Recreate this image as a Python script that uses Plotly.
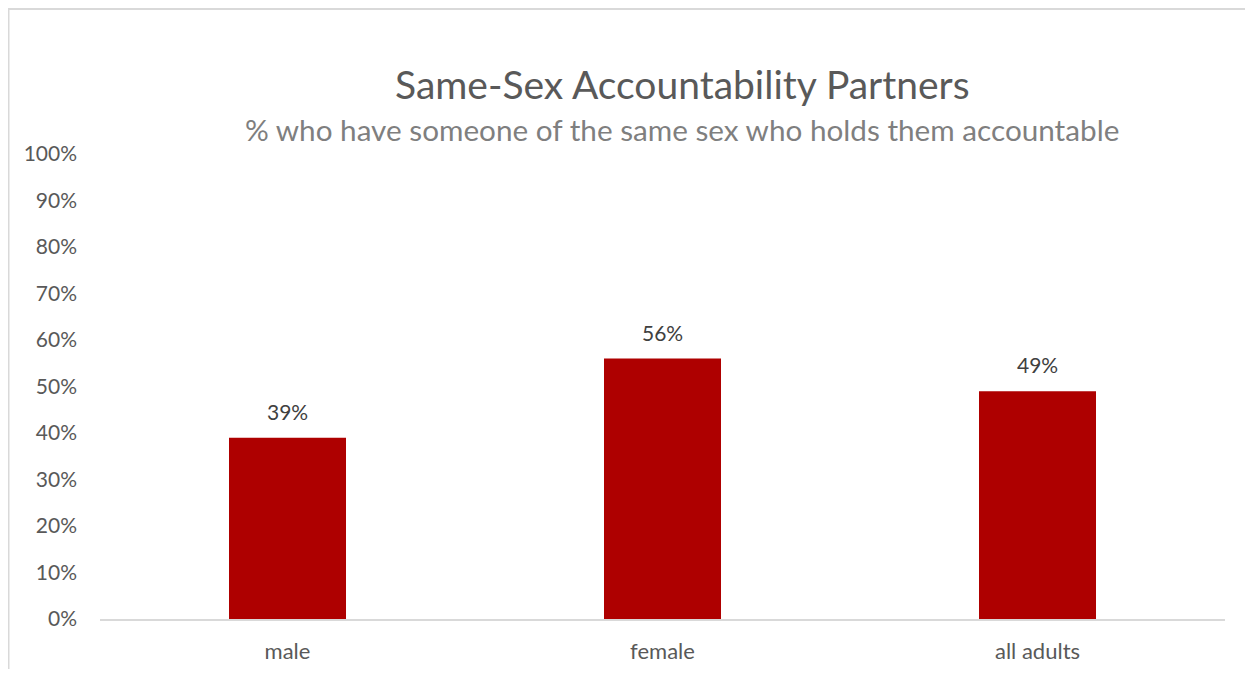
import plotly.graph_objects as go

categories = ["male", "female", "all adults"]
values = [39, 56, 49]
labels = ["39%", "56%", "49%"]
tick_vals = [0, 10, 20, 30, 40, 50, 60, 70, 80, 90, 100]
tick_text = ["0%", "10%", "20%", "30%", "40%", "50%", "60%", "70%", "80%", "90%", "100%"]

OFF = 8  # default page body margin
W, H = 1253 - 2 * OFF, 677 - 2 * OFF
L, R, T, B = 100 - OFF, 1253 - OFF - 1225, 154 - OFF, 677 - OFF - 619
pw, ph = W - L - R, H - T - B

FONT = "Lato"

fig = go.Figure()
fig.add_trace(go.Bar(
    x=categories, y=values, width=0.312,
    marker=dict(color="#AE0000", line=dict(width=0)),
    hoverinfo="skip",
))

for c, v, t in zip(categories, values, labels):
    fig.add_annotation(x=c, y=v, text=t, showarrow=False, yanchor="bottom",
                       yshift=12, font=dict(family=FONT, size=21, color="#404040"))

def px_x(p):
    return (p - OFF - L) / pw

def px_y(p):
    return (H + OFF - B - p) / ph

fig.add_annotation(xref="paper", yref="paper", x=px_x(682), y=px_y(84),
                   text="Same-Sex Accountability Partners", showarrow=False,
                   xanchor="center", yanchor="middle",
                   font=dict(family=FONT, size=39, color="#595959"))
fig.add_annotation(xref="paper", yref="paper", x=px_x(682), y=px_y(129),
                   text="% who have someone of the same sex who holds them accountable",
                   showarrow=False, xanchor="center", yanchor="middle",
                   font=dict(family=FONT, size=29.7, color="#7F7F7F"))

fig.add_shape(type="rect", xref="paper", yref="paper",
              x0=px_x(8.5), x1=px_x(1400), y0=px_y(800), y1=px_y(9),
              line=dict(color="#D9D9D9", width=2), fillcolor="rgba(0,0,0,0)", layer="below")

fig.update_layout(
    width=W, height=H,
    margin=dict(l=L, r=R, t=T, b=B, pad=0, autoexpand=False),
    plot_bgcolor="white", paper_bgcolor="white",
    showlegend=False,
    xaxis=dict(showline=True, linecolor="#D9D9D9", linewidth=2, showgrid=False,
               ticks="", tickfont=dict(family=FONT, size=22, color="#595959"),
               ticklabelstandoff=12, zeroline=False, fixedrange=True, automargin=False),
    yaxis=dict(range=[0, 100], tickvals=tick_vals, ticktext=tick_text,
               showgrid=False, showline=False, zeroline=False, ticks="",
               tickfont=dict(family=FONT, size=21, color="#595959"),
               ticklabelstandoff=22, fixedrange=True, automargin=False),
)

fig.write_html("out.html", config={"displayModeBar": False})
